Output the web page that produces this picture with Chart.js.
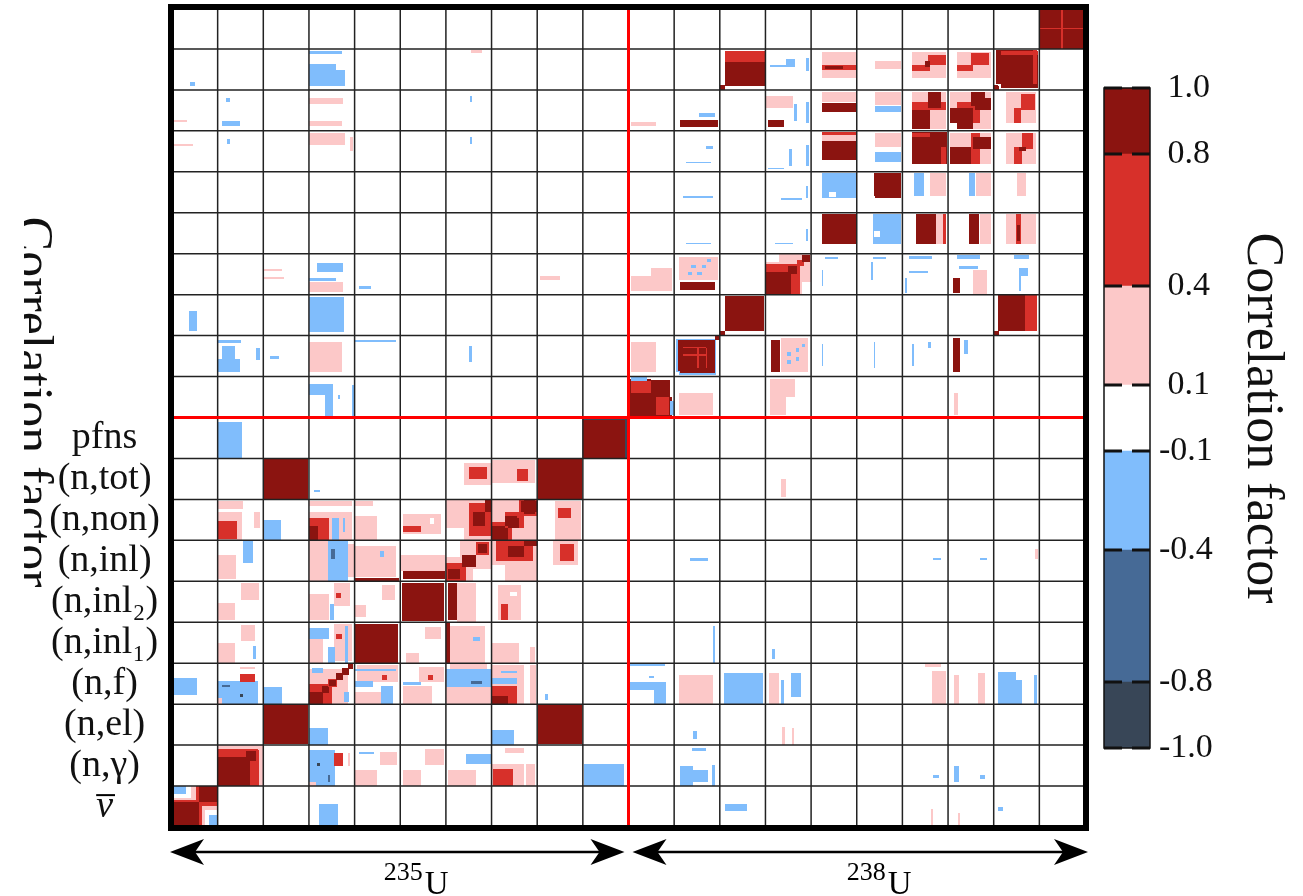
<!DOCTYPE html>
<html>
<head>
<meta charset="utf-8">
<script src="https://cdn.jsdelivr.net/npm/chart.js@4.4.1/dist/chart.umd.min.js"></script>
<style>
  html, body { margin: 0; padding: 0; background: #fff; overflow: hidden; }
  #main { position: absolute; left: 0; top: 0; }
  #cbar { position: absolute; left: 1090px; top: 0; }
</style>
</head>
<body>
<canvas id="main" width="1303" height="896"></canvas>
<canvas id="cbar" width="213" height="896"></canvas>
<script>
// reactions, same order for both isotopes (index 0..9 = 235U, 10..19 = 238U)
const reactions = ['ν', '(n,γ)', '(n,el)', '(n,f)', '(n,inl₁)', '(n,inl₂)', '(n,inl)', '(n,non)', '(n,tot)', 'pfns'];
const isotopes = [['235', 'U'], ['238', 'U']];

// colour levels of the colorbar
const levelBounds = [-1.0, -0.8, -0.4, -0.1, 0.1, 0.4, 0.8, 1.0];
const levelColors = ['#384657', '#466a96', '#80bdfc', '#ffffff', '#fcc8c8', '#d7302a', '#8b1410'];
const cbTicks = [-1.0, -0.8, -0.4, -0.1, 0.1, 0.4, 0.8, 1.0];

// correlation patches, upper triangle only (col <= row), mirrored when drawn
// [col, row, u0, u1, v0, v1, value]  (u, v = fraction inside the block)
const patches235 = [
  [0,0, 0,1,0,1, 0.9], [0,0, 0,0.6,0.6,1, 0.6], [0,0, 0,0.52,0.66,1, 0.25], [0,0, 0,0.42,0.72,1, 0], [0,0, 0,0.3,0.8,1, -0.25],
  [0,3, 0.02,0.55,0.22,0.63, -0.25],
  [1,1, 0,1,0,1, 0.25], [1,1, 0,0.88,0,0.9, 0.6], [1,1, 0,0.65,0,0.7, 0.9], [1,1, 0.62,0.85,0.62,0.85, 0.9],
  [1,3, 0,0.88,0,0.56, -0.25], [1,3, 0,0.1,0,0.15, 0.25], [1,3, 0.48,0.81,0.54,0.74, 0.6], [1,3, 0.48,0.81,0.85,0.9, 0.25],
  [1,3, 0.1,0.27,0.41,0.47, -0.6], [1,3, 0.5,0.56,0.17,0.25, -0.9],
  [1,4, 0.52,0.82,0.55,0.93, 0.25], [1,4, 0,0.38,0,0.5, 0.25], [1,4, 0.78,0.84,0.1,0.42, -0.25],
  [1,5, 0.52,0.9,0.54,0.95, 0.25], [1,5, 0,0.38,0.05,0.46, 0.25],
  [1,6, 0,0.4,0.05,0.65, 0.25], [1,6, 0.55,0.78,0.45,1, -0.25],
  [1,7, 0,0.53,0,0.7, 0.25], [1,7, 0,0.42,0.03,0.48, 0.6], [1,7, 0,0.55,0.76,0.95, 0.25], [1,7, 0.8,0.92,0.3,0.7, 0.25],
  [1,9, 0,0.53,0.02,0.9, -0.25],
  [2,2, 0.02,0.97,0.02,0.97, 0.9],
  [2,3, 0,0.42,0,0.42, -0.25],
  [2,7, 0,0.38,0,0.5, -0.25],
  [2,8, 0.02,0.98,0.02,0.98, 0.9],
  [3,3, 0,0.85,0,0.85, 0.25], [3,3, 0,0.5,0,0.5, 0.6], [3,3, 0,0.3,0,0.3, 0.9], [3,3, 0.28,0.45,0.28,0.45, 0.9],
  [3,3, 0.42,0.62,0.42,0.62, 0.6], [3,3, 0.45,0.6,0.45,0.6, 0.9], [3,3, 0.6,0.75,0.6,0.75, 0.9], [3,3, 0.72,0.88,0.72,0.88, 0.9],
  [3,3, 0.85,0.97,0.85,0.97, 0.9], [3,3, 0.06,0.3,0.76,0.88, -0.25],
  [3,4, 0,0.3,0,0.6, 0.25], [3,4, 0.55,0.95,0.05,0.95, 0.25], [3,4, 0,0.45,0.58,0.85, -0.25], [3,4, 0.6,0.72,0.6,0.72, 0.6],
  [3,4, 0.42,0.56,0,0.4, -0.25], [3,4, 0.8,0.86,0,0.9, -0.25],
  [3,5, 0,0.45,0.05,0.7, 0.25], [3,5, 0.55,0.9,0.4,0.95, 0.25], [3,5, 0.6,0.7,0.6,0.72, 0.6], [3,5, 0.47,0.55,0.05,0.45, -0.25],
  [3,6, 0,0.42,0,1, 0.25], [3,6, 0.42,0.85,0,1, -0.25], [3,6, 0.85,1,0.1,0.9, 0.25], [3,6, 0.48,0.56,0.55,0.8, -0.6],
  [3,7, 0,0.95,0,0.7, 0.25], [3,7, 0,0.95,0.84,0.97, 0.25], [3,7, 0,0.45,0,0.55, 0.6], [3,7, 0,0.2,0,0.35, 0.9],
  [3,7, 0.5,0.65,0,0.55, -0.25], [3,7, 0.75,0.8,0.2,0.55, -0.25],
  [3,8, 0.1,0.25,0.17,0.24, -0.25],
  [4,4, 0,0.96,0,0.96, 0.9],
  [4,5, 0.6,0.88,0.54,0.9, 0.25], [4,5, 0,0.25,0.12,0.42, 0.25],
  [4,6, 0,0.9,0.1,0.85, 0.25], [4,6, 0,0.97,0,0.08, 0.9], [4,6, 0.55,0.65,0.6,0.75, -0.25],
  [4,7, 0,0.5,0,0.6, 0.25], [4,7, 0,0.4,0.85,0.95, 0.25],
  [5,5, 0.04,0.96,0.04,0.96, 0.9],
  [5,6, 0,0.97,0.25,0.65, 0.25], [5,6, 0.05,0.97,0.05,0.25, 0.9],
  [5,7, 0.05,0.9,0.15,0.65, 0.25], [5,7, 0.05,0.45,0.2,0.35, 0.6], [5,7, 0.65,0.75,0.4,0.55, 0],
  [6,6, 0,1,0,1, 0.25], [6,6, 0,0.45,0,0.45, 0.6], [6,6, 0.05,0.3,0.05,0.3, 0.9], [6,6, 0.35,0.65,0.35,0.65, 0.9],
  [6,6, 0.65,0.95,0.65,0.95, 0.6], [6,6, 0.7,0.9,0.7,0.9, 0.9], [6,6, 0.6,1,0,0.3, 0],
  [6,7, 0,1,0,1, 0.25], [6,7, 0.5,1,0.1,0.9, 0.6], [6,7, 0.6,0.85,0.35,0.7, 0.9], [6,7, 0.85,1,0.7,1, 0.9], [6,7, 0,0.4,0,0.3, 0],
  [6,8, 0.4,1,0.35,0.9, 0.25], [6,8, 0.5,0.9,0.5,0.8, 0.6],
  [7,7, 0,1,0,1, 0.25], [7,7, 0,0.45,0,0.45, 0.6], [7,7, 0,0.3,0,0.35, 0.9], [7,7, 0.3,0.7,0.3,0.7, 0.6],
  [7,7, 0.35,0.6,0.3,0.55, 0.9], [7,7, 0.6,1,0.6,1, 0.6], [7,7, 0.65,1,0.7,0.95, 0.9],
  [7,8, 0,0.95,0.4,0.95, 0.25], [7,8, 0.55,0.8,0.45,0.75, 0.6],
  [8,8, 0.02,0.98,0.02,0.98, 0.9],
  [9,9, 0,1,0,1, 0.9], [9,9, 0,1,0.93,1, -0.9]
];

// 235U x 238U blocks
const patchesCross = [
  [0,12, 0.38,0.55,0.12,0.6, -0.25], [0,16, 0,0.45,0.63,0.68, 0.25], [0,17, 0,0.33,0.21,0.26, 0.25], [0,18, 0.4,0.5,0.1,0.2, -0.25],
  [1,11, 0,0.48,0.12,0.42, -0.25], [1,11, 0.1,0.38,0.4,0.75, -0.25], [1,11, 0,0.52,0.83,0.9, -0.25], [1,11, 0.85,0.92,0.4,0.7, -0.25],
  [1,16, 0.2,0.28,0.68,0.8, -0.25], [1,17, 0.1,0.5,0.12,0.24, -0.25], [1,17, 0.18,0.27,0.7,0.8, -0.25],
  [2,11, 0.15,0.35,0.42,0.5, -0.25], [2,13, 0,0.42,0.58,0.63, 0.25], [2,13, 0,0.45,0.37,0.42, 0.25],
  [3,10, 0,0.53,0.56,0.83, -0.25], [3,10, 0.35,0.53,0,0.6, -0.25], [3,10, 0.94,1,0,0.8, -0.25], [3,10, 0.63,0.68,0.45,0.55, -0.25],
  [3,11, 0,0.72,0.1,0.85, 0.25],
  [3,12, 0,0.77,0.1,0.95, -0.25],
  [3,13, 0,0.75,0.07,0.3, 0.25], [3,13, 0,0.6,0.34,0.41, -0.25], [3,13, 0.17,0.75,0.56,0.78, -0.25],
  [3,16, 0,0.8,0.65,0.95, 0.25], [3,16, 0.9,0.97,0.5,0.85, 0.25],
  [3,17, 0,0.75,0.66,0.8, 0.25], [3,17, 0,0.72,0.12,0.24, 0.25],
  [3,18, 0,0.78,0.1,0.63, -0.25], [3,18, 0,0.72,0.88,0.95, -0.25], [3,18, 0.6,0.78,0.48,0.63, 0],
  [4,11, 0,0.9,0.85,0.9, -0.25], [4,13, 0.1,0.35,0.15,0.22, -0.25],
  [6,11, 0.5,0.58,0.35,0.75, -0.25], [6,16, 0.52,0.58,0.68,0.85, -0.25], [6,17, 0.52,0.58,0.7,0.85, -0.25], [6,18, 0.55,0.8,0.9,0.97, 0.25],
  [8,13, 0.07,0.5,0.35,0.45, 0.25]
];

// 238U x 238U blocks
const patches238 = [
  [10,10, 0,0.95,0,0.95, 0.9], [10,10, 0.05,0.5,0.6,0.88, 0.6], [10,10, 0.05,0.4,0.9,1, -0.25], [10,10, 0.92,1,0.5,0.95, 0],
  [10,11, 0.05,0.6,0.1,0.85, 0.25],
  [10,13, 0.05,0.95,0.1,0.45, 0.25], [10,13, 0.5,0.95,0.45,0.65, 0.25],
  [10,17, 0.05,0.6,0.12,0.22, 0.25],
  [11,11, 0.1,0.92,0.05,0.92, -0.25], [11,11, 0.13,0.9,0.08,0.9, 0.9], [11,11, 0.2,0.7,0.5,0.54, 0.6], [11,11, 0.2,0.7,0.7,0.73, 0.6], [11,11, 0.9,0.98,0.9,0.98, 0.9],
  [11,13, 0.1,0.95,0.35,0.93, 0.25], [11,13, 0.3,0.4,0.48,0.55, -0.25], [11,13, 0.5,0.6,0.48,0.55, -0.25], [11,13, 0.38,0.48,0.66,0.73, -0.25],
  [11,13, 0.6,0.7,0.66,0.73, -0.25], [11,13, 0.72,0.8,0.8,0.86, -0.25], [11,13, 0.12,0.9,0.12,0.32, 0.9],
  [11,14, 0.25,0.8,0.23,0.27, -0.25], [11,15, 0.2,0.85,0.37,0.41, -0.25],
  [11,16, 0.25,0.8,0.21,0.25, -0.25], [11,16, 0.7,0.85,0.55,0.63, -0.25],
  [11,17, 0.12,0.95,0.1,0.27, 0.9], [11,17, 0.55,0.9,0.35,0.43, -0.25],
  [12,12, 0.12,0.97,0.12,0.97, 0.9], [12,12, 0,0.12,0,0.12, 0.9],
  [12,18, 0.12,0.98,0.1,0.95, 0.9], [12,18, 0.12,0.98,0.68,0.95, 0.6], [12,18, 0,0.12,0,0.12, 0.9],
  [13,13, 0,1,0,1, 0.25], [13,13, 0,0.75,0,0.75, 0.6], [13,13, 0,0.55,0,0.55, 0.9], [13,13, 0.5,0.7,0.5,0.7, 0.9],
  [13,13, 0.7,0.85,0.7,0.85, 0.6], [13,13, 0.8,0.97,0.8,0.97, 0.9], [13,13, 0,0.3,0.8,1, 0],
  [13,14, 0.2,0.6,0.23,0.27, -0.25], [13,14, 0.88,0.93,0.3,0.6, -0.25],
  [13,15, 0.35,0.8,0.31,0.35, -0.25], [13,15, 0.88,0.93,0.35,0.65, -0.25],
  [13,16, 0.52,0.58,0.15,0.55, -0.25], [13,16, 0.88,0.95,0.15,0.65, -0.25], [13,16, 0.05,0.4,0.06,0.1, -0.25],
  [13,17, 0,0.6,0.55,0.85, 0.25], [13,17, 0.05,0.4,0.1,0.27, 0.9], [13,17, 0.62,0.7,0.25,0.65, -0.25], [13,17, 0.88,0.96,0.2,0.7, -0.25],
  [13,18, 0.45,0.65,0.55,0.75, -0.25], [13,18, 0.88,0.96,0.45,0.78, -0.25], [13,18, 0.1,0.45,0.56,0.6, -0.25],
  [14,14, 0.23,0.98,0.23,0.98, 0.9],
  [14,15, 0.23,0.98,0.35,0.97, -0.25], [14,15, 0.4,0.55,0.38,0.5, 0],
  [14,16, 0.23,0.98,0.3,0.74, 0.9], [14,16, 0.23,0.98,0.74,0.9, 0.25], [14,16, 0.23,0.98,0.9,0.96, 0.6],
  [14,17, 0.23,0.98,0.7,0.95, 0.25], [14,17, 0.23,0.98,0.45,0.68, 0.9],
  [14,18, 0.23,0.98,0.28,0.93, 0.25], [14,18, 0.23,0.98,0.49,0.6, 0.6], [14,18, 0.3,0.7,0.52,0.58, 0.9],
  [15,15, 0.4,0.98,0.37,0.96, 0.9],
  [15,16, 0.4,0.96,0.6,0.95, 0.25], [15,16, 0.4,0.96,0.25,0.48, -0.25],
  [15,17, 0.4,0.96,0.62,0.95, 0.25], [15,17, 0.4,0.96,0.45,0.6, -0.25],
  [15,18, 0.4,0.96,0.52,0.7, 0.25],
  [16,16, 0.2,0.98,0.2,0.98, 0.9], [16,16, 0.2,0.6,0.85,0.95, 0.6],
  [16,17, 0.2,0.95,0.05,0.95, 0.25], [16,17, 0.2,0.6,0.05,0.6, 0.9], [16,17, 0.2,0.95,0.5,0.7, 0.6], [16,17, 0.55,0.85,0.55,0.95, 0.9],
  [16,18, 0.2,0.95,0.28,0.93, 0.25], [16,18, 0.2,0.6,0.45,0.62, 0.6], [16,18, 0.55,0.95,0.62,0.85, 0.6], [16,18, 0.5,0.6,0.55,0.7, 0.9],
  [17,17, 0.2,0.95,0.05,0.95, 0.25], [17,17, 0.2,0.55,0.05,0.55, 0.9], [17,17, 0.2,0.95,0.55,0.7, 0.6], [17,17, 0.5,0.8,0.6,0.95, 0.9],
  [17,18, 0.2,0.95,0.28,0.93, 0.25], [17,18, 0.2,0.55,0.45,0.6, 0.6], [17,18, 0.5,0.9,0.6,0.9, 0.6],
  [18,18, 0.15,0.98,0.05,0.95, 0.9], [18,18, 0.15,0.98,0.85,0.95, 0.6], [18,18, 0,0.12,0,0.1, 0.9],
  [19,19, 0,1,0,1, 0.9], [19,19, 0.48,0.52,0,1, 0.6]
];

const allPatches = [...patches235, ...patchesCross, ...patches238];
const nBlocks = reactions.length * isotopes.length;
const serif = '"Liberation Serif", "DejaVu Serif", serif';
const labelSize = 38;

function levelColor(v) {
  for (let i = 0; i < levelColors.length; i++) {
    if (v <= levelBounds[i + 1]) return levelColors[i];
  }
  return levelColors[levelColors.length - 1];
}

// draws the correlation cells with the x / y scales (symmetric matrix)
const heatmapPlugin = {
  id: 'heatmap',
  beforeDatasetsDraw(chart) {
    const { ctx, scales: { x, y } } = chart;
    const fillCell = (x0, x1, y0, y1, v) => {
      const px0 = Math.round(x.getPixelForValue(x0)), px1 = Math.round(x.getPixelForValue(x1));
      const py0 = Math.round(y.getPixelForValue(y1)), py1 = Math.round(y.getPixelForValue(y0));
      ctx.fillStyle = levelColor(v);
      ctx.fillRect(px0, py0, px1 - px0, py1 - py0);
    };
    ctx.save();
    allPatches.forEach(([c, r, u0, u1, v0, v1, val]) => {
      fillCell(c + u0, c + u1, r + v0, r + v1, val);
      fillCell(r + v0, r + v1, c + u0, c + u1, val);
    });
    ctx.restore();
  },
  afterDatasetsDraw(chart) {
    const { ctx, chartArea: a, scales: { x, y } } = chart;
    ctx.save();
    // block grid
    ctx.strokeStyle = '#222';
    ctx.lineWidth = 1.5;
    ctx.beginPath();
    for (let i = 1; i < nBlocks; i++) {
      const px = x.getPixelForValue(i), py = y.getPixelForValue(i);
      ctx.moveTo(px, a.top); ctx.lineTo(px, a.bottom);
      ctx.moveTo(a.left, py); ctx.lineTo(a.right, py);
    }
    ctx.stroke();
    // isotope separators
    const half = reactions.length;
    ctx.strokeStyle = '#ff0000';
    ctx.lineWidth = 3;
    ctx.beginPath();
    ctx.moveTo(x.getPixelForValue(half), a.top); ctx.lineTo(x.getPixelForValue(half), a.bottom + 3);
    ctx.moveTo(a.left, y.getPixelForValue(half)); ctx.lineTo(a.right, y.getPixelForValue(half));
    ctx.stroke();
    // frame
    ctx.strokeStyle = '#000';
    ctx.lineWidth = 6;
    ctx.strokeRect(a.left - 1, a.top - 1, a.right - a.left + 2, a.bottom - a.top + 2);
    ctx.restore();
  },
  afterDraw(chart) {
    const { ctx, scales: { x, y } } = chart;
    const half = reactions.length;
    const ay = 852;
    ctx.save();
    ctx.strokeStyle = '#000';
    ctx.fillStyle = '#000';

    // bar over the nu label
    const nuItem = y.getLabelItems()[0];
    if (nuItem) {
      const [lx, ly] = nuItem.options.translation;
      ctx.font = 'italic ' + labelSize + 'px ' + serif;
      const w = ctx.measureText(reactions[0]).width;
      ctx.lineWidth = 2;
      ctx.beginPath();
      ctx.moveTo(lx - w / 2, ly - labelSize * 0.3);
      ctx.lineTo(lx + w / 2 + 2, ly - labelSize * 0.3);
      ctx.stroke();
    }

    const head = (tx, dir) => {
      ctx.beginPath();
      ctx.moveTo(tx, ay);
      ctx.lineTo(tx - dir * 34, ay - 13);
      ctx.lineTo(tx - dir * 25, ay);
      ctx.lineTo(tx - dir * 34, ay + 13);
      ctx.closePath();
      ctx.fill();
    };
    const spans = [[x.getPixelForValue(0) - 2, x.getPixelForValue(half) - 4], [x.getPixelForValue(half) + 4, x.getPixelForValue(nBlocks) + 3]];
    spans.forEach(([x0, x1], k) => {
      ctx.lineWidth = 2.5;
      ctx.beginPath();
      ctx.moveTo(x0 + 20, ay); ctx.lineTo(x1 - 20, ay);
      ctx.stroke();
      head(x0, -1);
      head(x1, 1);
      // isotope label, mass number as superscript
      const cx = (x0 + x1) / 2 + 18;
      const [mass, sym] = isotopes[k];
      ctx.font = '26px ' + serif;
      const wm = ctx.measureText(mass).width;
      ctx.font = '33px ' + serif;
      const ws = ctx.measureText(sym).width;
      const left = cx - (wm + ws) / 2;
      ctx.textBaseline = 'alphabetic';
      ctx.textAlign = 'left';
      ctx.font = '26px ' + serif;
      ctx.fillText(mass, left, 880);
      ctx.font = '33px ' + serif;
      ctx.fillText(sym, left + wm + 2, 894);
    });
    // axis title at the far left, partly cut off as in the original figure
    ctx.beginPath();
    ctx.rect(24, 0, 160, 896);
    ctx.clip();
    ctx.translate(17, 402);
    ctx.rotate(Math.PI / 2);
    ctx.textAlign = 'center';
    ctx.font = '52px ' + serif;
    ctx.fillStyle = '#111';
    ctx.fillText('Correlation factor', 0, 0);
    ctx.restore();
  }
};

new Chart(document.getElementById('main'), {
  type: 'scatter',
  data: { datasets: [{ label: 'correlation', data: [] }] },
  options: {
    responsive: false,
    animation: false,
    layout: { padding: { left: 0, right: 218, top: 8, bottom: 69 } },
    plugins: { legend: { display: false }, tooltip: { enabled: false } },
    scales: {
      x: { type: 'linear', min: 0, max: nBlocks, display: false },
      y: {
        type: 'linear', min: 0, max: nBlocks, position: 'left',
        grid: { display: false }, border: { display: false },
        afterBuildTicks: s => { s.ticks = reactions.map((_, i) => ({ value: i + 0.5 })); },
        afterFit: s => { s.width = 172; s.paddingTop = 0; s.paddingBottom = 0; },
        ticks: {
          autoSkip: false, crossAlign: 'center', padding: 4, color: '#111',
          font: c => ({ family: serif, size: labelSize, style: c.index === 0 ? 'italic' : 'normal' }),
          callback: (v, i) => reactions[i]
        }
      }
    }
  },
  plugins: [heatmapPlugin]
});

// colorbar frame and boundary dashes
const colorbarFrame = {
  id: 'cbframe',
  afterDatasetsDraw(chart) {
    const { ctx, chartArea: a, scales: { y } } = chart;
    ctx.save();
    ctx.strokeStyle = '#111';
    ctx.lineWidth = 1.5;
    ctx.strokeRect(a.left, a.top, a.right - a.left, a.bottom - a.top);
    ctx.lineWidth = 3;
    ctx.beginPath();
    levelBounds.forEach(v => {
      const py = y.getPixelForValue(v);
      ctx.moveTo(a.left, py); ctx.lineTo(a.left + 18, py);
      ctx.moveTo(a.right - 18, py); ctx.lineTo(a.right, py);
    });
    ctx.stroke();
    ctx.restore();
  }
};

new Chart(document.getElementById('cbar'), {
  type: 'bar',
  data: {
    labels: [''],
    datasets: levelColors.map((c, i) => ({
      label: levelBounds[i] + '..' + levelBounds[i + 1],
      data: [[levelBounds[i], levelBounds[i + 1]]],
      backgroundColor: c,
      borderWidth: 0,
      barPercentage: 1,
      categoryPercentage: 1,
      grouped: false
    }))
  },
  options: {
    responsive: false,
    animation: false,
    layout: { padding: { left: 14, right: 0, top: 88, bottom: 148 } },
    plugins: { legend: { display: false }, tooltip: { enabled: false } },
    scales: {
      x: { display: false },
      y: {
        position: 'right', min: -1, max: 1,
        grid: { display: false }, border: { display: false },
        afterBuildTicks: s => { s.ticks = cbTicks.map(v => ({ value: v })); },
        afterFit: s => { s.width = 213 - 14 - 46; },
        ticks: {
          padding: 1, color: '#111',
          font: { family: serif, size: 34 },
          callback: v => (v < 0 ? '-' + Math.abs(v).toFixed(1) : '\u00a0' + v.toFixed(1))
        },
        title: {
          display: true, text: 'Correlation factor', color: '#111',
          font: { family: serif, size: 52 },
          padding: { top: 10, bottom: 0 }
        }
      }
    }
  },
  plugins: [colorbarFrame]
});
</script>
</body>
</html>
